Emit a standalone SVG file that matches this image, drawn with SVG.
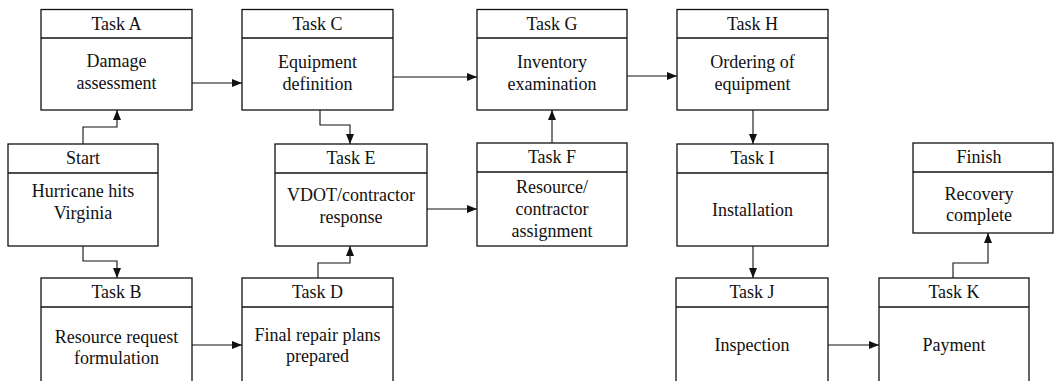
<svg xmlns="http://www.w3.org/2000/svg" width="1054" height="381" viewBox="0 0 1054 381">
  <style>
    .box { fill: #ffffff; stroke: #111111; stroke-width: 1.3; }
    .sep { stroke: #111111; stroke-width: 1.3; }
    .lbl { font-family: "Liberation Serif", "Times New Roman", serif; font-size: 18px; fill: #111111; text-anchor: middle; }
    .wire { fill: none; stroke: #111111; stroke-width: 1.1; }
  </style>
  <defs>
    <marker id="arrow" viewBox="0 0 10 8" refX="10" refY="4" markerWidth="10" markerHeight="8" markerUnits="userSpaceOnUse" orient="auto">
      <path d="M0,0 L10,4 L0,8 Z" fill="#111111"/>
    </marker>
  </defs>
  <rect width="1054" height="381" fill="#ffffff"/>

  <!-- connectors -->
  <g id="connectors">
    <path class="wire" d="M83,144 V127 H117 V110" marker-end="url(#arrow)"/>
    <path class="wire" d="M83,246 V261 H117 V278" marker-end="url(#arrow)"/>
    <path class="wire" d="M192,83 H242" marker-end="url(#arrow)"/>
    <path class="wire" d="M393,77 H477" marker-end="url(#arrow)"/>
    <path class="wire" d="M627,76 H677" marker-end="url(#arrow)"/>
    <path class="wire" d="M320,110 V125 H350 V144" marker-end="url(#arrow)"/>
    <path class="wire" d="M192,345 H242" marker-end="url(#arrow)"/>
    <path class="wire" d="M318,278 V263 H350 V246" marker-end="url(#arrow)"/>
    <path class="wire" d="M427,209 H477" marker-end="url(#arrow)"/>
    <path class="wire" d="M552,143 V110" marker-end="url(#arrow)"/>
    <path class="wire" d="M753,110 V144" marker-end="url(#arrow)"/>
    <path class="wire" d="M753,246 V278" marker-end="url(#arrow)"/>
    <path class="wire" d="M828,345 H879" marker-end="url(#arrow)"/>
    <path class="wire" d="M953,278 V263 H988 V233" marker-end="url(#arrow)"/>
  </g>

  <!-- top row -->
  <g id="task-a">
    <rect class="box" x="41" y="9.5" width="151" height="100.5"/>
    <line class="sep" x1="41" y1="38" x2="192" y2="38"/>
    <text class="lbl" x="116.5" y="30">Task A</text>
    <text class="lbl" x="116.5" y="67">Damage</text>
    <text class="lbl" x="116.5" y="89">assessment</text>
  </g>
  <g id="task-c">
    <rect class="box" x="242" y="9.5" width="151" height="100.5"/>
    <line class="sep" x1="242" y1="38" x2="393" y2="38"/>
    <text class="lbl" x="317.5" y="30">Task C</text>
    <text class="lbl" x="317.5" y="68">Equipment</text>
    <text class="lbl" x="317.5" y="90">definition</text>
  </g>
  <g id="task-g">
    <rect class="box" x="477" y="9.5" width="150" height="100.5"/>
    <line class="sep" x1="477" y1="38" x2="627" y2="38"/>
    <text class="lbl" x="552" y="30">Task G</text>
    <text class="lbl" x="552" y="68">Inventory</text>
    <text class="lbl" x="552" y="90">examination</text>
  </g>
  <g id="task-h">
    <rect class="box" x="677" y="9.5" width="151" height="100.5"/>
    <line class="sep" x1="677" y1="38" x2="828" y2="38"/>
    <text class="lbl" x="752.5" y="30">Task H</text>
    <text class="lbl" x="752.5" y="68">Ordering of</text>
    <text class="lbl" x="752.5" y="90">equipment</text>
  </g>

  <!-- middle row -->
  <g id="start">
    <rect class="box" x="8" y="144" width="150" height="102"/>
    <line class="sep" x1="8" y1="173" x2="158" y2="173"/>
    <text class="lbl" x="83" y="164">Start</text>
    <text class="lbl" x="83" y="197">Hurricane hits</text>
    <text class="lbl" x="83" y="219">Virginia</text>
  </g>
  <g id="task-e">
    <rect class="box" x="275" y="144" width="152" height="102"/>
    <line class="sep" x1="275" y1="173" x2="427" y2="173"/>
    <text class="lbl" x="351" y="164">Task E</text>
    <text class="lbl" x="351" y="201">VDOT/contractor</text>
    <text class="lbl" x="351" y="223">response</text>
  </g>
  <g id="task-f">
    <rect class="box" x="477" y="143" width="150" height="103"/>
    <line class="sep" x1="477" y1="172" x2="627" y2="172"/>
    <text class="lbl" x="552" y="163">Task F</text>
    <text class="lbl" x="552" y="193">Resource/</text>
    <text class="lbl" x="552" y="215">contractor</text>
    <text class="lbl" x="552" y="237">assignment</text>
  </g>
  <g id="task-i">
    <rect class="box" x="677" y="144" width="151" height="102"/>
    <line class="sep" x1="677" y1="173" x2="828" y2="173"/>
    <text class="lbl" x="752.5" y="164">Task I</text>
    <text class="lbl" x="752.5" y="216">Installation</text>
  </g>
  <g id="finish">
    <rect class="box" x="913" y="143" width="140" height="90"/>
    <line class="sep" x1="913" y1="172" x2="1053" y2="172"/>
    <text class="lbl" x="979" y="163">Finish</text>
    <text class="lbl" x="979" y="200">Recovery</text>
    <text class="lbl" x="979" y="221">complete</text>
  </g>

  <!-- bottom row (boxes run past the lower edge) -->
  <g id="task-b">
    <rect class="box" x="41" y="278" width="151" height="112"/>
    <line class="sep" x1="41" y1="307" x2="192" y2="307"/>
    <text class="lbl" x="116.5" y="298">Task B</text>
    <text class="lbl" x="116.5" y="343">Resource request</text>
    <text class="lbl" x="116.5" y="364">formulation</text>
  </g>
  <g id="task-d">
    <rect class="box" x="242" y="278" width="151" height="112"/>
    <line class="sep" x1="242" y1="307" x2="393" y2="307"/>
    <text class="lbl" x="317.5" y="298">Task D</text>
    <text class="lbl" x="317.5" y="341">Final repair plans</text>
    <text class="lbl" x="317.5" y="362">prepared</text>
  </g>
  <g id="task-j">
    <rect class="box" x="676" y="278" width="152" height="112"/>
    <line class="sep" x1="676" y1="307" x2="828" y2="307"/>
    <text class="lbl" x="752" y="298">Task J</text>
    <text class="lbl" x="752" y="351">Inspection</text>
  </g>
  <g id="task-k">
    <rect class="box" x="879" y="278" width="150" height="112"/>
    <line class="sep" x1="879" y1="307" x2="1029" y2="307"/>
    <text class="lbl" x="954" y="298">Task K</text>
    <text class="lbl" x="954" y="351">Payment</text>
  </g>
</svg>
